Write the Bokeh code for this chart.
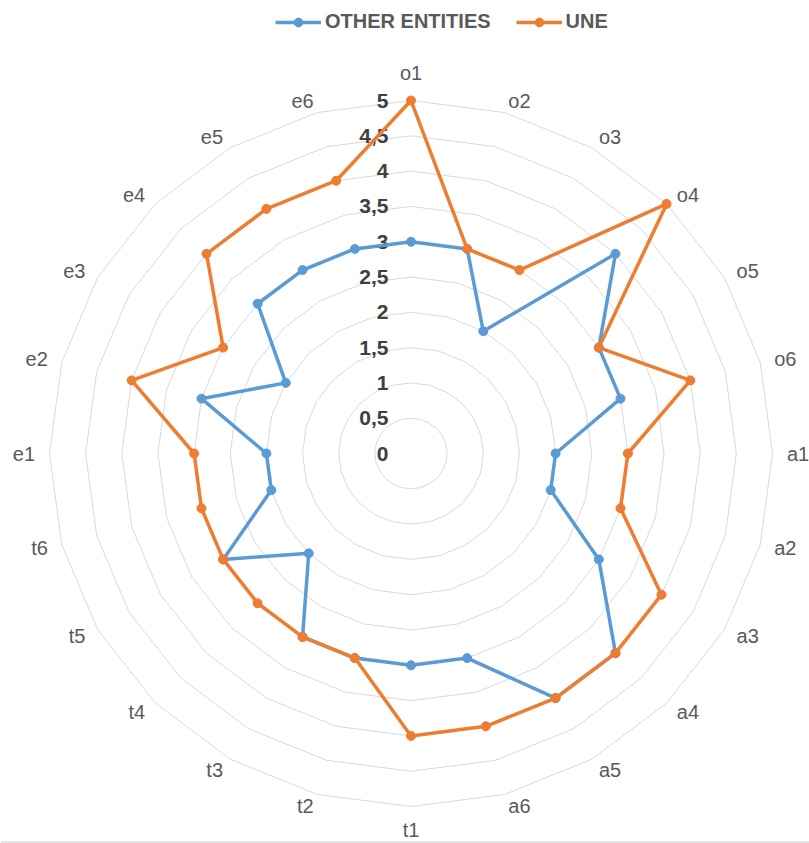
import numpy as np
from bokeh.plotting import figure
from bokeh.models import ColumnDataSource, Range1d, Legend, LegendItem, Span
from bokeh.core.properties import value
from bokeh.embed import file_html
from bokeh.resources import INLINE

# --- data -------------------------------------------------------------
categories = ["o1", "o2", "o3", "o4", "o5", "o6",
              "a1", "a2", "a3", "a4", "a5", "a6",
              "t1", "t2", "t3", "t4", "t5", "t6",
              "e1", "e2", "e3", "e4", "e5", "e6"]
other_entities = [3, 3, 2, 4, 3, 3,
                  2, 2, 3, 4, 4, 3,
                  3, 3, 3, 2, 3, 2,
                  2, 3, 2, 3, 3, 3]
une = [5, 3, 3, 5, 3, 4,
       3, 3, 4, 4, 4, 4,
       4, 3, 3, 3, 3, 3,
       3, 4, 3, 4, 4, 4]
tick_values = [0, 0.5, 1, 1.5, 2, 2.5, 3, 3.5, 4, 4.5, 5]
tick_labels = ["0", "0,5", "1", "1,5", "2", "2,5", "3", "3,5", "4", "4,5", "5"]

# --- layout -----------------------------------------------------------
W, H = 809, 843
PX_X, PX_Y = 72.3, 70.6        # screen pixels per value unit
CX, CY = 410.5, 453.0          # centre of the radar in screen pixels

BLUE = "#5B9BD5"
ORANGE = "#ED7D31"
GRID = "#D9D9D9"
NARROW = "Liberation Sans Narrow, Arial Narrow, Liberation Sans"

n = len(categories)
theta = np.arange(n) * 2 * np.pi / n      # clockwise from the top


def polar(r):
    r = np.asarray(r, dtype=float)
    return r * np.sin(theta), r * np.cos(theta)


y_bottom = -(H - CY) / PX_Y
p = figure(width=W, height=H, output_backend="svg", toolbar_location=None,
           x_range=Range1d(-CX / PX_X, (W - CX) / PX_X),
           y_range=Range1d(y_bottom, CY / PX_Y),
           min_border=0, outline_line_color=None,
           background_fill_color="white", border_fill_color="white")
p.axis.visible = False
p.grid.visible = False

# chart-area edge along the bottom
p.add_layout(Span(location=y_bottom + 1.5 / PX_Y, dimension="width",
                  line_color="#D0D0D0", line_width=1))

# concentric 24-sided grid rings
ring_xs, ring_ys = [], []
for t in tick_values[1:]:
    gx, gy = polar(np.full(n, t))
    ring_xs.append(list(gx) + [gx[0]])
    ring_ys.append(list(gy) + [gy[0]])
p.multi_line(ring_xs, ring_ys, line_color=GRID, line_width=1)

# value labels along the vertical axis
tick_src = ColumnDataSource(dict(x=[-22.5 / PX_X] * len(tick_values),
                                 y=tick_values, text=tick_labels))
p.text("x", "y", "text", source=tick_src, text_align="right",
       text_baseline="middle", text_font=value(NARROW),
       text_font_style="bold", text_font_size="21px", text_color="#404040")

# category labels: pushed outwards, left/right aligned off the sides,
# centred above and below the vertical axis
s, c = np.sin(theta), np.cos(theta)
on_axis = np.abs(s) < 1e-6
lab_x = np.where(on_axis, 0.0, 5.2 * s)
lab_y = np.where(on_axis, np.where(c > 0, 5.385, -5.33), 5.17 * c)
lab_align = np.where(on_axis, "center", np.where(s > 0, "left", "right"))
cat_src = ColumnDataSource(dict(x=lab_x, y=lab_y, text=categories,
                                align=lab_align))
p.text("x", "y", "text", source=cat_src, text_align="align",
       text_baseline="middle", text_font=value(NARROW),
       text_font_size="20px", text_color="#595959")

# series
items = []
for name, vals, col in [("OTHER ENTITIES", other_entities, BLUE),
                        ("UNE", une, ORANGE)]:
    sx, sy = polar(vals)
    src = ColumnDataSource(dict(x=list(sx) + [sx[0]], y=list(sy) + [sy[0]]))
    ln = p.line("x", "y", source=src, line_color=col, line_width=3.5,
                line_join="round")
    pts = ColumnDataSource(dict(x=sx, y=sy))
    sc = p.scatter("x", "y", source=pts, size=9, fill_color=col,
                   line_color=col)
    items.append(LegendItem(label=name, renderers=[ln, sc]))

legend = Legend(items=items, orientation="horizontal",
                location=(275, 810), padding=0, margin=0, spacing=25,
                glyph_width=46, glyph_height=22, label_standoff=4,
                label_height=22,
                label_text_font=NARROW, label_text_font_style="bold",
                label_text_font_size="20px", label_text_color="#595959",
                border_line_color=None, background_fill_alpha=0)
p.add_layout(legend)

open("out.html", "w").write(file_html(p, INLINE))
